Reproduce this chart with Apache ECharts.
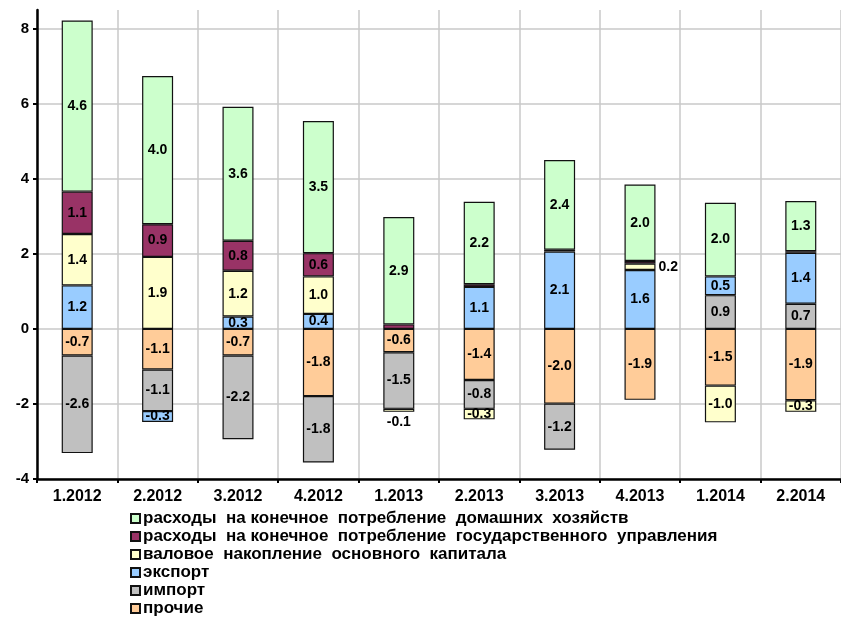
<!DOCTYPE html>
<html>
<head>
<meta charset="utf-8">
<script src="https://cdn.jsdelivr.net/npm/echarts@6/dist/echarts.min.js"></script>
<style>
  html, body { margin: 0; padding: 0; background: #fff; }
  #main { width: 841px; height: 617px; }
</style>
</head>
<body>
<div id="main"></div>
<script>
// quarters
var categories = ["1.2012", "2.2012", "3.2012", "4.2012", "1.2013", "2.2013", "3.2013", "4.2013", "1.2014", "2.2014"];

// contributions to GDP growth, p.p.
var households = [4.56, 3.95, 3.57, 3.52, 2.86, 2.2, 2.39, 2.04, 1.96, 1.34];
var government = [1.13, 0.87, 0.8, 0.62, 0.12, 0.07, 0.05, 0.07, 0, 0.04];
var capital = [1.37, 1.92, 1.22, 1.0, -0.08, -0.28, 0, 0.17, -0.98, -0.31];
var exports = [1.16, -0.29, 0.33, 0.4, 0, 1.12, 2.06, 1.57, 0.5, 1.36];
var imports = [-2.6, -1.11, -2.23, -1.77, -1.51, -0.77, -1.23, 0, 0.9, 0.67];
var other = [-0.71, -1.08, -0.71, -1.79, -0.62, -1.36, -1.99, -1.89, -1.51, -1.9];

var names = [
  "расходы  на конечное  потребление  домашних  хозяйств",
  "расходы  на конечное  потребление  государственного  управления",
  "валовое  накопление  основного  капитала",
  "экспорт",
  "импорт",
  "прочие"
];

var font = "'Liberation Sans', Arial, sans-serif";

function makeSeries(name, values, color, smallOutside) {
  var data = values.map(function(v) {
    if (v === 0) return "-";
    var item = { value: v };
    if (Math.abs(v) < 0.2 && smallOutside) {
      item.label = { position: v > 0 ? "right" : "bottom", distance: 3 };
    } else if (Math.abs(v) < 0.15) {
      item.label = { show: false };
    }
    return item;
  });
  return {
    name: name,
    type: "bar",
    stack: "total",
    barWidth: 31,
    itemStyle: { color: color, borderColor: "#111", borderWidth: 1.2 },
    label: {
      show: true,
      position: "inside",
      color: "#000",
      fontFamily: font,
      fontWeight: "bold",
      fontSize: 14,
      formatter: function(p) { return p.value.toFixed(1); }
    },
    data: data
  };
}

var chart = echarts.init(document.getElementById("main"));
chart.setOption({
  animation: false,
  backgroundColor: "#fff",
  grid: { left: 37, top: 10, width: 809, height: 469 },
  legend: {
    orient: "vertical",
    left: 130,
    top: 510,
    padding: 0,
    itemWidth: 9,
    itemHeight: 9,
    itemGap: 1,
    icon: "rect",
    data: names,
    textStyle: { color: "#000", fontFamily: font, fontWeight: "bold", fontSize: 17, lineHeight: 17, padding: [0, 0, 0, -2] }
  },
  xAxis: [
    {
      type: "category",
      data: categories,
      position: "bottom",
      axisLine: { show: false },
      axisTick: { show: false },
      axisLabel: { color: "#000", fontFamily: font, fontWeight: "bold", fontSize: 16, margin: 10 },
      splitLine: { show: true, lineStyle: { color: "#c8c8c8", width: 1.5 } }
    },
    {
      type: "category",
      data: categories,
      position: "bottom",
      axisLine: { show: true, onZero: true, lineStyle: { color: "#000", width: 2.5 } },
      axisTick: { show: true, length: 4, lineStyle: { color: "#000", width: 2 } },
      axisLabel: { show: false },
      splitLine: { show: false }
    }
  ],
  yAxis: {
    type: "value",
    min: -4,
    max: 8.5,
    interval: 2,
    axisLine: { show: true, lineStyle: { color: "#000", width: 2.5 } },
    axisTick: { show: true, length: 4, lineStyle: { color: "#000", width: 2 } },
    axisLabel: {
      color: "#000", fontFamily: font, fontWeight: "bold", fontSize: 15, margin: 8,
      showMaxLabel: false
    },
    splitLine: { show: true, showMaxLine: false, lineStyle: { color: "#c8c8c8", width: 1.5 } }
  },
  series: [
    makeSeries(names[5], other, "#FFCC99"),
    makeSeries(names[4], imports, "#C0C0C0"),
    makeSeries(names[3], exports, "#99CCFF"),
    makeSeries(names[2], capital, "#FFFFCC", true),
    makeSeries(names[1], government, "#993366"),
    makeSeries(names[0], households, "#CCFFCC")
  ]
});
</script>
</body>
</html>
